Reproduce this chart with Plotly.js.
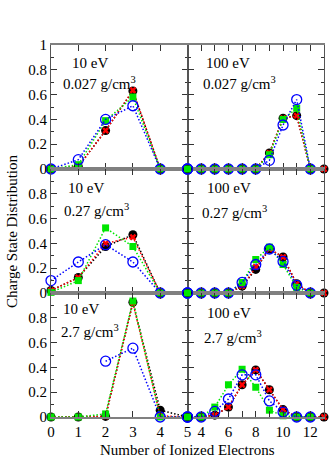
<!DOCTYPE html>
<html>
<head>
<meta charset="utf-8">
<script src="https://cdn.plot.ly/plotly-3.0.1.min.js"></script>
<style>
  body { margin: 0; background: white; }
  #figure { width: 331px; height: 468px; }
</style>
</head>
<body>
<div id="figure"></div>
<script>
// x values for the two columns
const xLow = [0, 1, 2, 3, 4, 5];
const xHigh = [3, 4, 5, 6, 7, 8, 9, 10, 11, 12, 13];

// 10 eV panels (left column)
const low027Black = [0, 0.02, 0.31, 0.63, 0, 0];
const low027Red = [0, 0.02, 0.31, 0.635, 0, 0];
const low027Green = [0, 0.035, 0.39, 0.58, 0, 0];
const low027Blue = [0, 0.075, 0.40, 0.51, 0, 0];

const low27Black = [0.02, 0.125, 0.375, 0.47, 0, 0];
const low27Red = [0.02, 0.125, 0.40, 0.45, 0, 0];
const low27Green = [0.005, 0.10, 0.525, 0.375, 0, 0];
const low27Blue = [0.10, 0.25, 0.39, 0.25, 0, 0];

const low2p7Black = [0, 0, 0.005, 0.925, 0.055, 0];
const low2p7Red = [0, 0, 0.005, 0.92, 0.01, 0];
const low2p7Green = [0, 0, 0.025, 0.935, 0, 0];
const low2p7Blue = [null, null, 0.45, 0.555, 0, 0];

// 100 eV panels (right column)
const high027Black = [0, 0, 0, 0, 0, 0, 0.13, 0.41, 0.43, 0, 0];
const high027Red = [0, 0, 0, 0, 0, 0, 0.13, 0.41, 0.43, 0, 0];
const high027Green = [0, 0, 0, 0, 0, 0, 0.115, 0.40, 0.49, 0, null];
const high027Blue = [0, 0, 0, 0, 0, 0, 0.07, 0.355, 0.56, 0, null];

const high27Black = [0, 0, 0, 0, 0.055, 0.19, 0.355, 0.29, 0.075, 0, 0];
const high27Red = [0, 0, 0, 0, 0.055, 0.21, 0.355, 0.29, 0.075, 0, 0];
const high27Green = [0, 0, 0, 0, 0.085, 0.27, 0.37, 0.23, 0.045, 0, null];
const high27Blue = [0, 0, 0, 0, 0.085, 0.23, 0.355, 0.255, 0.062, 0, null];

const high2p7Black = [0, 0, 0.015, 0.08, 0.26, 0.38, 0.22, 0.06, 0, 0, 0];
const high2p7Red = [0, 0, 0.015, 0.08, 0.26, 0.38, 0.22, 0.06, 0, 0, 0];
const high2p7Green = [0, 0, 0.08, 0.26, 0.385, 0.24, 0.055, 0.01, 0, 0, null];
const high2p7Blue = [0, 0, 0.045, 0.145, 0.34, 0.34, 0.13, 0.04, 0, 0, null];

// tick labels
const yTicksTop = [0, 0.2, 0.4, 0.6, 0.8, 1];
const yTicksLower = [0, 0.2, 0.4, 0.6, 0.8];
const xTicksLow = [0, 1, 2, 3, 4, 5];
const xTicksHigh = [4, 6, 8, 10, 12];

const panelLabels = [
  ["10 eV", "0.027 g/cm<sup>3</sup>"],
  ["100 eV", "0.027 g/cm<sup>3</sup>"],
  ["10 eV", "0.27 g/cm<sup>3</sup>"],
  ["100 eV", "0.27 g/cm<sup>3</sup>"],
  ["10 eV", "2.7 g/cm<sup>3</sup>"],
  ["100 eV", "2.7 g/cm<sup>3</sup>"]
];

const green = "rgb(0,230,0)";
const serif = "Liberation Serif, Times New Roman, serif";
const dots = "1.5px,2px";

const markerStyles = [
  { symbol: "circle", size: 9, color: "black" },
  { symbol: "x", size: 6, color: "red", line: { width: 0 } },
  { symbol: "square", size: 7, color: green },
  { symbol: "circle-open", size: 10, color: "blue", line: { width: 1.3 } }
];
const lineColors = ["black", "red", green, "blue"];

function seriesSet(x, black, red, grn, blue, n) {
  let xa = n === 1 ? "x" : "x" + n;
  let ya = n === 1 ? "y" : "y" + n;
  return [black, red, grn, blue].map(function(ys, k) {
    return { x: x, y: ys, mode: "lines+markers", xaxis: xa, yaxis: ya,
      cliponaxis: false, showlegend: false, hoverinfo: "skip",
      line: { color: lineColors[k], dash: dots, width: 1.5 },
      marker: markerStyles[k] };
  });
}

var traces = [].concat(
  seriesSet(xLow, low027Black, low027Red, low027Green, low027Blue, 1),
  seriesSet(xHigh, high027Black, high027Red, high027Green, high027Blue, 2),
  seriesSet(xLow, low27Black, low27Red, low27Green, low27Blue, 3),
  seriesSet(xHigh, high27Black, high27Red, high27Green, high27Blue, 4),
  seriesSet(xLow, low2p7Black, low2p7Red, low2p7Green, low2p7Blue, 5),
  seriesSet(xHigh, high2p7Black, high2p7Red, high2p7Green, high2p7Blue, 6)
);

// points on the shared column edge (x = 5 of the 10 eV panels), drawn on
// one full-size overlay so they are not hidden between the two columns
const edgeRows = [
  [low027Black, low027Red, low027Green, low027Blue],
  [low27Black, low27Red, low27Green, low27Blue],
  [low2p7Black, low2p7Red, low2p7Green, low2p7Blue]
];
edgeRows.forEach(function(row, r) {
  row.forEach(function(ys, k) {
    let last = xLow.length - 1;
    traces.push({ x: [xLow[last]], y: [(2 - r) + ys[last]], mode: "markers",
      xaxis: "x7", yaxis: "y7", cliponaxis: false, showlegend: false,
      hoverinfo: "skip", marker: markerStyles[k] });
  });
});

const tickFont = { family: serif, size: 15, color: "black" };

function xAxis(n, left, bottom) {
  return {
    domain: left ? [0, 0.5] : [0.5, 1],
    anchor: n === 1 ? "y" : "y" + n,
    range: left ? [0, 5] : [3, 13],
    tickmode: "array",
    tickvals: left ? xTicksLow : xTicksHigh,
    showticklabels: bottom,
    ticks: "inside", ticklen: 6, tickcolor: "#333",
    minor: left ? undefined : { tickmode: "linear", tick0: 3, dtick: 1, ticks: "inside", ticklen: 6, tickcolor: "#333" },
    showline: true, mirror: "ticks", linecolor: "#808080", linewidth: 1.5,
    showgrid: false, zeroline: false, fixedrange: true,
    tickfont: tickFont
  };
}

function yAxis(n, row, left) {
  let top = 1 - (row - 1) / 3;
  return {
    domain: [top - 1 / 3, top],
    anchor: n === 1 ? "x" : "x" + n,
    range: [0, 1],
    tickmode: "array",
    tickvals: row === 1 ? yTicksTop : yTicksLower,
    ticktext: (row === 1 ? yTicksTop : yTicksLower).map(String),
    showticklabels: left,
    ticks: "inside", ticklen: 6, tickcolor: "#333",
    minor: { tickmode: "linear", tick0: 0, dtick: 0.1, ticks: "inside", ticklen: 3, tickcolor: "#333" },
    showline: true, mirror: "ticks", linecolor: "#555", linewidth: 1,
    showgrid: false, zeroline: false, fixedrange: true,
    tickfont: tickFont
  };
}

// text positions in pixels (left edge, centre y)
const labelPos = [
  [[70, 63], [61, 83]],
  [[204, 63], [201, 83]],
  [[66, 188], [62, 210]],
  [[205, 188], [200, 212]],
  [[61, 309], [59, 331]],
  [[205, 313], [202, 337]]
];

function px2x(p) { return (p - 51) / 273; }
function px2y(p) { return (417 - p) / 372; }

var annotations = [];
panelLabels.forEach(function(lbls, i) {
  lbls.forEach(function(txt, j) {
    annotations.push({
      text: txt, xref: "paper", yref: "paper",
      x: px2x(labelPos[i][j][0]), y: px2y(labelPos[i][j][1]),
      xanchor: "left", yanchor: "middle", showarrow: false,
      font: { family: serif, size: 15, color: "black" }
    });
  });
});
annotations.push({
  text: "Charge State Distribution", xref: "paper", yref: "paper",
  x: px2x(12), y: px2y(231), textangle: -90, showarrow: false,
  xanchor: "center", yanchor: "middle",
  font: { family: serif, size: 15, color: "black" }
});
annotations.push({
  text: "Number of Ionized Electrons", xref: "paper", yref: "paper",
  x: px2x(187), y: px2y(450), showarrow: false,
  xanchor: "center", yanchor: "middle",
  font: { family: serif, size: 15, color: "black" }
});

var layout = {
  width: 331, height: 468,
  margin: { l: 51, r: 7, t: 45, b: 51 },
  paper_bgcolor: "white", plot_bgcolor: "rgba(0,0,0,0)",
  showlegend: false,
  xaxis: xAxis(1, true, false), yaxis: yAxis(1, 1, true),
  xaxis2: xAxis(2, false, false), yaxis2: yAxis(2, 1, false),
  xaxis3: xAxis(3, true, false), yaxis3: yAxis(3, 2, true),
  xaxis4: xAxis(4, false, false), yaxis4: yAxis(4, 2, false),
  xaxis5: xAxis(5, true, true), yaxis5: yAxis(5, 3, true),
  xaxis6: xAxis(6, false, true), yaxis6: yAxis(6, 3, false),
  // overlay spanning the whole grid: 10 eV units across, one unit per row
  xaxis7: { domain: [0, 1], range: [0, 10], anchor: "y7", visible: false, fixedrange: true },
  yaxis7: { domain: [0, 1], range: [0, 3], anchor: "x7", visible: false, fixedrange: true },
  annotations: annotations
};

Plotly.newPlot("figure", traces, layout, { displayModeBar: false });
</script>
</body>
</html>
